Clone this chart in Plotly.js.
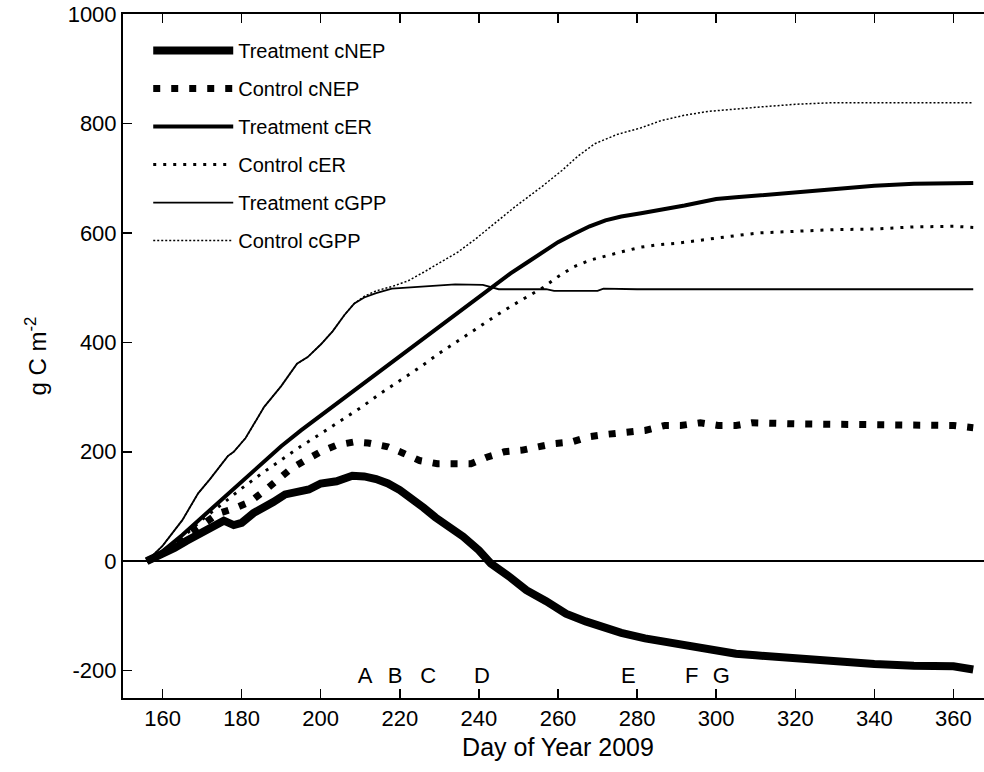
<!DOCTYPE html>
<html>
<head>
<meta charset="utf-8">
<script src="https://cdn.plot.ly/plotly-3.0.1.min.js"></script>
<style>
  html, body { margin: 0; padding: 0; background: #fff; overflow: hidden; }
  #chart { width: 993px; height: 772px; }
</style>
</head>
<body>
<div id="chart"></div>
<script>
// Cumulative carbon fluxes, day of year 2009 (g C m-2)

const tNepDay = [156, 160, 163, 166, 169, 172, 175.5, 178, 180, 183, 186, 188, 191, 194, 197, 200, 204, 208, 211, 214, 217, 220, 223, 226, 229, 232, 236, 240, 243, 248, 252, 257, 262, 267, 271, 276, 282, 288, 295, 300, 305, 310, 320, 330, 340, 350, 360, 365];
const tNepVal = [0, 12, 24, 37, 50, 60, 74, 66, 70, 88, 98, 108, 122, 128, 131, 142, 146, 156, 155, 150, 142, 130, 116, 98, 80, 66, 45, 20, -4, -30, -53, -73, -96, -110, -120, -131, -141, -149, -156, -163, -169, -172, -178, -183, -188, -191, -192, -198];

const cNepDay = [156, 160, 165, 170, 174, 178, 182, 186, 189, 192.5, 196, 200, 204, 208.5, 212, 217, 221, 225, 229.5, 234, 238, 242, 246.5, 251, 255, 259, 263.5, 267.5, 272.5, 277, 282, 287, 291, 296, 300.5, 305, 309, 320, 330, 340, 350, 360, 365];
const cNepVal = [0, 14, 40, 68, 87, 96, 108, 130, 148, 169, 184, 200, 212, 218, 216, 209, 197, 184, 178, 178, 178, 190, 200, 203, 209, 215, 218, 227, 232, 234, 239, 248, 248, 253, 248, 248, 253, 251, 250, 250, 250, 248, 244];

const tErDay = [156, 160, 165, 170, 175, 180, 185, 190, 195, 200, 205, 210, 215, 220, 225, 230, 235, 240, 243, 248, 252, 256, 260, 264, 268, 272, 276, 281, 286, 292, 296, 300, 305, 310, 320, 330, 340, 350, 365];
const tErVal = [0, 18, 48, 80, 112, 145, 178, 210, 239, 266, 293, 320, 347, 374, 402, 429, 456, 484, 500, 526, 545, 565, 583, 598, 612, 623, 630, 636, 642, 650, 656, 662, 665, 668, 675, 680, 686, 690, 691];

const cErDay = [156, 160, 165, 170, 175, 180, 185, 190, 195, 200, 205, 210, 215, 220, 225, 230, 235, 240, 245, 250, 256, 260, 264, 268, 273, 277, 281, 285, 290, 298, 305, 311, 320, 330, 340, 350, 360, 365];
const cErVal = [0, 15, 43, 76, 104, 133, 160, 185, 210, 233, 256, 280, 306, 330, 354, 380, 404, 428, 452, 474, 499, 520, 538, 550, 560, 567, 574, 578, 581, 589, 595, 600, 603, 606, 607, 611, 612, 610];

const tGppDay = [156, 160, 165, 169, 172, 176.5, 178, 181, 185.7, 190, 194, 196.7, 200, 203, 206, 208.5, 211, 214, 218, 222, 228, 234, 241, 245, 252, 257, 259, 270, 271.5, 280, 300, 330, 365];
const tGppVal = [0, 28, 75, 124, 150, 192, 200, 225, 282, 320, 361, 373, 396, 420, 450, 471, 482, 490, 498, 500, 502, 506, 505, 497, 497, 497, 494, 494, 498, 497, 497, 497, 497];

const cGppDay = [156, 160, 165, 169, 172, 176.5, 178, 181, 185.7, 190, 194, 196.7, 200, 203, 206, 208.5, 211, 214, 218, 222, 226, 230, 234.7, 239, 243, 249, 256, 261, 265, 269.3, 275, 281, 286, 292, 298, 305, 311, 320, 330, 345, 365];
const cGppVal = [0, 28, 75, 124, 150, 192, 200, 225, 282, 320, 361, 373, 396, 420, 450, 471, 484, 494, 502, 512, 528, 545, 565, 588, 611, 647, 685, 714, 740, 763, 780, 792, 805, 815, 822, 827, 830, 835, 838, 838, 838];

// Event markers along the bottom of the plot
const eventLabels = ['A', 'B', 'C', 'D', 'E', 'F', 'G'];
const eventDays = [211.2, 218.8, 227.2, 240.8, 277.8, 293.8, 301.3];
const eventLevel = -213;

// Axis ticks
const xTicks = [160, 180, 200, 220, 240, 260, 280, 300, 320, 340, 360];
const yTicks = [-200, 0, 200, 400, 600, 800, 1000];
const yTickText = ['-200', '0', '200', '400', '600', '800', '1000'];

const FONT = 'Liberation Sans, Arial, sans-serif';

function series(name, x, y, width, dash, group) {
  return {
    type: 'scatter', mode: 'lines', name: name, x: x, y: y,
    legendgroup: group,
    line: { color: '#000', width: width, dash: dash },
    hoverinfo: 'skip'
  };
}

const traces = [
  series('Treatment cNEP', tNepDay, tNepVal, 8, 'solid', 'g1'),
  series('Control cNEP', cNepDay, cNepVal, 7, '7px,11px', 'g2'),
  series('Treatment cER', tErDay, tErVal, 4, 'solid', 'g3'),
  series('Control cER', cErDay, cErVal, 3, '3px,7px', 'g4'),
  series('Treatment cGPP', tGppDay, tGppVal, 1.8, 'solid', 'g5'),
  series('Control cGPP', cGppDay, cGppVal, 1.5, '2px,2px', 'g6'),
  {
    type: 'scatter', mode: 'text', x: eventDays,
    y: eventDays.map(() => eventLevel), text: eventLabels,
    textfont: { family: FONT, size: 22, color: '#000' },
    showlegend: false, hoverinfo: 'skip', cliponaxis: false
  }
];

const axisCommon = {
  showline: true, linecolor: '#000', linewidth: 2,
  mirror: 'allticks', ticks: 'inside', ticklen: 9, tickwidth: 1.5, tickcolor: '#000',
  showgrid: false, tickfont: { family: FONT, size: 22, color: '#000' }
};

const layout = {
  width: 993, height: 772,
  margin: { l: 123, r: 0, t: 14, b: 74 },
  paper_bgcolor: '#fff', plot_bgcolor: '#fff',
  showlegend: true,
  legend: {
    x: 0.029, y: 0.975, xanchor: 'left', yanchor: 'top',
    bgcolor: 'rgba(0,0,0,0)', borderwidth: 0,
    font: { family: FONT, size: 20, color: '#000' },
    traceorder: 'grouped', tracegroupgap: 9, itemwidth: 80
  },
  xaxis: Object.assign({}, axisCommon, {
    range: [150, 370], tickmode: 'array', tickvals: xTicks,
    zeroline: false,
    title: { text: 'Day of Year 2009', font: { family: FONT, size: 25, color: '#000' }, standoff: 8 }
  }),
  yaxis: Object.assign({}, axisCommon, {
    range: [-250, 1000], tickmode: 'array', tickvals: yTicks, ticktext: yTickText,
    zeroline: true, zerolinecolor: '#000', zerolinewidth: 2,
    title: { text: 'g C m<sup>-2</sup>', font: { family: FONT, size: 24, color: '#000' }, standoff: 14 }
  }),
  hovermode: false
};

Plotly.newPlot('chart', traces, layout, { displayModeBar: false, staticPlot: true });
</script>
</body>
</html>
